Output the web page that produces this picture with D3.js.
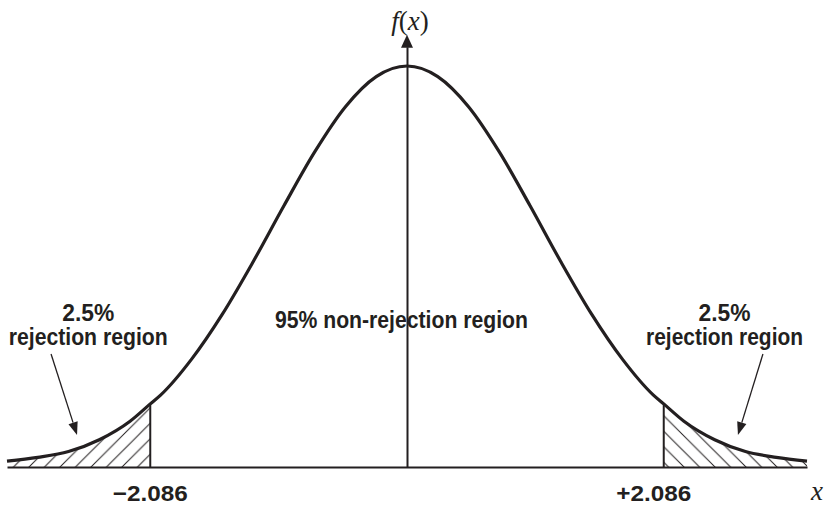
<!DOCTYPE html>
<html>
<head>
<meta charset="utf-8">
<script src="https://cdn.jsdelivr.net/npm/d3@7"></script>
<style>
  body { margin: 0; background: #fff; }
  .lbl { font-family: "Liberation Sans", Arial, sans-serif; font-weight: bold; font-size: 23px; fill: #231f20; }
  .serif { font-family: "Liberation Serif", "DejaVu Serif", serif; font-size: 27px; fill: #231f20; }
</style>
</head>
<body>
<div id="chart"></div>
<script>
// curve: t value -> density
const tValues = [-3.25, -3, -2.75, -2.5, -2.25, -2.086, -2, -1.75, -1.5, -1.25, -1, -0.75, -0.5, -0.25,
                 0, 0.25, 0.5, 0.75, 1, 1.25, 1.5, 1.75, 2, 2.086, 2.25, 2.5, 2.75, 3, 3.25];
const density = [0.0058, 0.0095, 0.0152, 0.0268, 0.0450, 0.0620, 0.0709, 0.1060, 0.1502, 0.2017, 0.2567, 0.3096, 0.3540, 0.3836,
                 0.3940, 0.3836, 0.3540, 0.3096, 0.2567, 0.2017, 0.1502, 0.1060, 0.0709, 0.0620, 0.0450, 0.0268, 0.0152, 0.0095, 0.0058];
const critical = [-2.086, 2.086];
const tickLabels = ['\u22122.086', '+2.086'];
const regionLabels = [['2.5%', 'rejection region'], ['95% non-rejection region'], ['2.5%', 'rejection region']];

const width = 826;
const height = 506;
const ink = '#231f20';

const data = tValues.map((t, i) => ({t: t, f: density[i]}));

let svg = d3.select('#chart')
    .append('svg')
    .attr('width', width)
    .attr('height', height);

let x = d3.scaleLinear()
    .domain([-3.25, 3.25])
    .range([7, 807]);

let y = d3.scaleLinear()
    .domain([0, 0.394])
    .range([467, 66]);

// hatch patterns
let defs = svg.append('defs');
defs.append('pattern')
    .attr('id', 'hatchL')
    .attr('patternUnits', 'userSpaceOnUse')
    .attr('width', 15.5).attr('height', 15.5)
    .append('path')
    .attr('d', 'M-2,2 L2,-2 M0,15.5 L15.5,0 M13.5,17.5 L17.5,13.5')
    .attr('stroke', ink).attr('stroke-width', 1);
defs.append('pattern')
    .attr('id', 'hatchR')
    .attr('patternUnits', 'userSpaceOnUse')
    .attr('width', 15.5).attr('height', 15.5)
    .append('path')
    .attr('d', 'M-2,13.5 L2,17.5 M0,0 L15.5,15.5 M13.5,-2 L17.5,2')
    .attr('stroke', ink).attr('stroke-width', 1);

defs.append('clipPath').attr('id', 'clipL')
    .append('rect')
    .attr('x', x(-3.25)).attr('y', 0)
    .attr('width', x(critical[0]) - x(-3.25)).attr('height', height);
defs.append('clipPath').attr('id', 'clipR')
    .append('rect')
    .attr('x', x(critical[1])).attr('y', 0)
    .attr('width', x(3.25) - x(critical[1])).attr('height', height);

let area = d3.area()
    .x(d => x(d.t))
    .y0(y(0))
    .y1(d => y(d.f))
    .curve(d3.curveMonotoneX);

let line = d3.line()
    .x(d => x(d.t))
    .y(d => y(d.f))
    .curve(d3.curveMonotoneX);

svg.append('path').datum(data)
    .attr('d', area)
    .attr('fill', 'url(#hatchL)')
    .attr('clip-path', 'url(#clipL)');
svg.append('path').datum(data)
    .attr('d', area)
    .attr('fill', 'url(#hatchR)')
    .attr('clip-path', 'url(#clipR)');

// critical value lines
svg.selectAll('.crit').data(critical).enter().append('line')
    .attr('class', 'crit')
    .attr('x1', d => x(d)).attr('x2', d => x(d))
    .attr('y1', y(0))
    .attr('y2', d => y(density[tValues.indexOf(d)]))
    .attr('stroke', ink).attr('stroke-width', 2);

// x axis, no ticks
let xAxis = svg.append('g')
    .attr('transform', `translate(0, ${y(0)})`)
    .call(d3.axisBottom(x).tickValues([]).tickSizeOuter(0));
xAxis.select('.domain').attr('stroke', ink).attr('stroke-width', 2);

// y axis with arrow
let yTop = 0.413;
let yAxis = svg.append('g')
    .attr('transform', `translate(${x(0)}, 0)`)
    .call(d3.axisLeft(y.copy().domain([0, yTop]).range([y(0), y(yTop)])).tickValues([]).tickSizeOuter(0));
yAxis.select('.domain').attr('stroke', ink).attr('stroke-width', 2);
svg.append('path')
    .attr('d', `M${x(0)},${y(yTop) - 12} L${x(0) - 6},${y(yTop) + 1} L${x(0) + 6},${y(yTop) + 1} Z`)
    .attr('fill', ink);

// the curve
svg.append('path').datum(data)
    .attr('d', line)
    .attr('fill', 'none')
    .attr('stroke', ink)
    .attr('stroke-width', 3.2);

// annotation arrows (data coordinates)
const arrows = [
    {from: [-2.892, 0.111], to: [-2.681, 0.0314]},
    {from: [2.892, 0.111], to: [2.689, 0.0314]}
];
arrows.forEach(a => {
    let x1 = x(a.from[0]), y1 = y(a.from[1]);
    let x2 = x(a.to[0]), y2 = y(a.to[1]);
    let ang = Math.atan2(y2 - y1, x2 - x1);
    let len = 13, half = 4.8;
    let bx = x2 - len * Math.cos(ang), by = y2 - len * Math.sin(ang);
    svg.append('line')
        .attr('x1', x1).attr('y1', y1).attr('x2', bx).attr('y2', by)
        .attr('stroke', ink).attr('stroke-width', 1.3);
    svg.append('path')
        .attr('d', `M${x2},${y2} L${bx + half * Math.sin(ang)},${by - half * Math.cos(ang)} L${bx - half * Math.sin(ang)},${by + half * Math.cos(ang)} Z`)
        .attr('fill', ink);
});

// region labels: centre x, baseline, widths of each line (condensed look)
const labelPos = [[-2.59, 321], [-0.045, 328], [2.58, 321]];
const labelWidths = [[52, 159], [253], [52, 157]];
regionLabels.forEach((lines, i) => {
    let t = svg.append('text')
        .attr('class', 'lbl')
        .attr('text-anchor', 'middle')
        .attr('x', x(labelPos[i][0]))
        .attr('y', labelPos[i][1]);
    lines.forEach((s, j) => {
        t.append('tspan')
            .attr('x', x(labelPos[i][0]))
            .attr('dy', j === 0 ? 0 : 24)
            .attr('textLength', labelWidths[i][j])
            .attr('lengthAdjust', 'spacingAndGlyphs')
            .text(s);
    });
});

// critical value labels
svg.selectAll('.tick-lbl').data(critical).enter().append('text')
    .attr('class', 'lbl tick-lbl')
    .attr('text-anchor', 'middle')
    .style('font-size', '22px')
    .attr('x', (d, i) => x(d) + (i === 0 ? 0 : -10))
    .attr('y', 501)
    .attr('textLength', 75)
    .attr('lengthAdjust', 'spacingAndGlyphs')
    .text((d, i) => tickLabels[i]);

// axis titles
let fx = svg.append('text')
    .attr('class', 'serif')
    .attr('text-anchor', 'middle')
    .attr('x', x(0) + 3)
    .attr('y', 30);
fx.append('tspan').attr('font-style', 'italic').text('f');
fx.append('tspan').text('(');
fx.append('tspan').attr('font-style', 'italic').text('x');
fx.append('tspan').text(')');

svg.append('text')
    .attr('class', 'serif')
    .attr('font-style', 'italic')
    .attr('text-anchor', 'middle')
    .attr('x', 817)
    .attr('y', 500)
    .text('x');
</script>
</body>
</html>
